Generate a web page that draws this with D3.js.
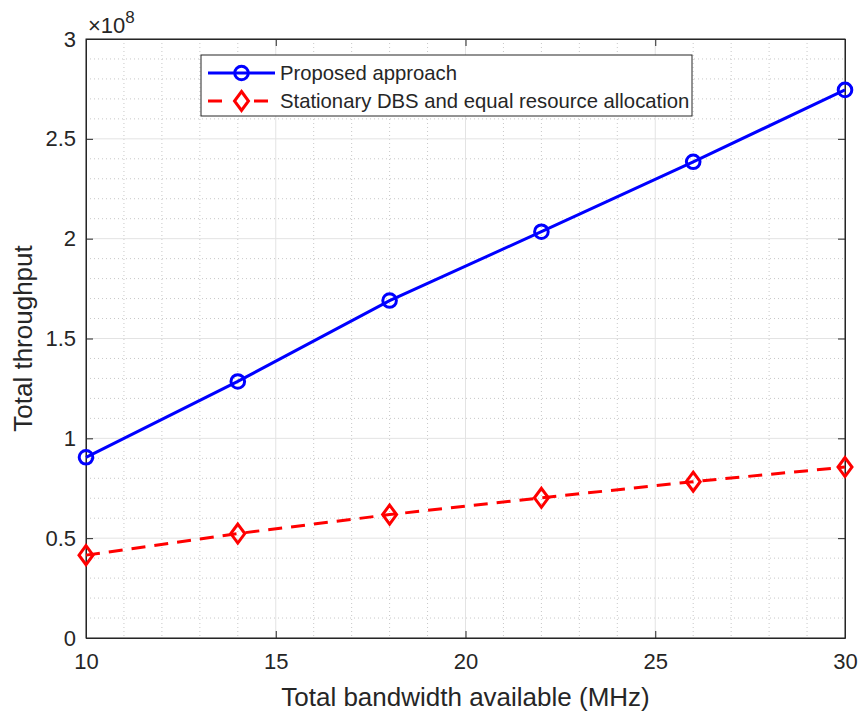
<!DOCTYPE html>
<html>
<head>
<meta charset="utf-8">
<script src="https://cdn.jsdelivr.net/npm/d3@7"></script>
<style>
  body { margin: 0; background: #fff; }
  text { font-family: "Liberation Sans", Arial, sans-serif; fill: #262626; }
</style>
</head>
<body>
<svg width="862" height="717"></svg>
<script>
// bandwidth (MHz)
let bandwidth = [10, 14, 18, 22, 26, 30];
// total throughput, units of 1e8
let proposed = [0.905, 1.285, 1.69, 2.035, 2.385, 2.745];
let stationary = [0.415, 0.523, 0.618, 0.702, 0.783, 0.856];
let xTicks = [10, 15, 20, 25, 30];
let yTicks = [0, 0.5, 1, 1.5, 2, 2.5, 3];
let seriesNames = ["Proposed approach", "Stationary DBS and equal resource allocation"];

let plotL = 86, plotR = 845, plotT = 39, plotB = 638;
let lw = 3;

let svg = d3.select("svg");

let x = d3.scaleLinear().domain([10, 30]).range([plotL, plotR]);
let y = d3.scaleLinear().domain([0, 3]).range([plotB, plotT]);

// minor grid (dotted)
let xMinor = d3.range(10, 30.01, 1).filter(v => v % 5 !== 0);
let yMinor = d3.range(0, 3.001, 0.1).filter(v => Math.abs(v * 2 - Math.round(v * 2)) > 1e-6);

svg.append("g").selectAll("line")
    .data(xMinor)
  .enter().append("line")
    .attr("x1", d => x(d)).attr("x2", d => x(d))
    .attr("y1", plotT).attr("y2", plotB)
    .attr("stroke", "#c8c8c8").attr("stroke-width", 1)
    .attr("stroke-dasharray", "1,3");

svg.append("g").selectAll("line")
    .data(yMinor)
  .enter().append("line")
    .attr("x1", plotL).attr("x2", plotR)
    .attr("y1", d => y(d)).attr("y2", d => y(d))
    .attr("stroke", "#c8c8c8").attr("stroke-width", 1)
    .attr("stroke-dasharray", "1,3");

// major grid
svg.append("g").selectAll("line")
    .data(xTicks)
  .enter().append("line")
    .attr("x1", d => x(d)).attr("x2", d => x(d))
    .attr("y1", plotT).attr("y2", plotB)
    .attr("stroke", "#e3e3e3").attr("stroke-width", 1);

svg.append("g").selectAll("line")
    .data(yTicks)
  .enter().append("line")
    .attr("x1", plotL).attr("x2", plotR)
    .attr("y1", d => y(d)).attr("y2", d => y(d))
    .attr("stroke", "#e3e3e3").attr("stroke-width", 1);

// axes (ticks inward)
let xAxis = svg.append("g")
    .attr("transform", `translate(0,${plotB})`)
    .call(d3.axisBottom(x).tickValues(xTicks).tickSizeInner(-7).tickSizeOuter(0).tickPadding(15).tickFormat(d3.format("d")));
let xTop = svg.append("g")
    .attr("transform", `translate(0,${plotT})`)
    .call(d3.axisTop(x).tickValues(xTicks).tickSizeInner(-7).tickSizeOuter(0).tickFormat(""));
let yAxis = svg.append("g")
    .attr("transform", `translate(${plotL},0)`)
    .call(d3.axisLeft(y).tickValues(yTicks).tickSizeInner(-7).tickSizeOuter(0).tickPadding(10).tickFormat(d3.format("")));
let yRight = svg.append("g")
    .attr("transform", `translate(${plotR},0)`)
    .call(d3.axisRight(y).tickValues(yTicks).tickSizeInner(-7).tickSizeOuter(0).tickFormat(""));

[xAxis, xTop, yAxis, yRight].forEach(g => {
  g.select(".domain").attr("stroke", "#262626").attr("stroke-width", 1);
  g.selectAll(".tick line").attr("stroke", "#262626");
  g.selectAll("text").attr("font-size", 22).attr("fill", "#262626")
    .style("font-family", "'Liberation Sans', Arial, sans-serif");
});

// box frame
svg.append("rect")
    .attr("x", plotL).attr("y", plotT)
    .attr("width", plotR - plotL).attr("height", plotB - plotT)
    .attr("fill", "none").attr("stroke", "#262626").attr("stroke-width", 1);

// exponent label
let expo = svg.append("text").attr("x", 88).attr("y", 33).attr("font-size", 22);
expo.append("tspan").text("×10");
expo.append("tspan").attr("font-size", 17).attr("dy", -10).text("8");

// lines
let lineGen = vals => d3.line()
    .x((d, i) => x(bandwidth[i]))
    .y(d => y(d))(vals);

svg.append("path")
    .attr("d", lineGen(proposed))
    .attr("fill", "none").attr("stroke", "#0000ff").attr("stroke-width", lw);

svg.append("path")
    .attr("d", lineGen(stationary))
    .attr("fill", "none").attr("stroke", "#ff0000").attr("stroke-width", lw)
    .attr("stroke-dasharray", "14,9");

// markers
function circleMarker(g, cx, cy) {
  g.append("circle").attr("cx", cx).attr("cy", cy).attr("r", 6.8)
    .attr("fill", "none").attr("stroke", "#0000ff").attr("stroke-width", lw);
}
function diamondMarker(g, cx, cy) {
  g.append("path")
    .attr("d", `M${cx},${cy - 9.5}L${cx + 7},${cy}L${cx},${cy + 9.5}L${cx - 7},${cy}Z`)
    .attr("fill", "none").attr("stroke", "#ff0000").attr("stroke-width", lw);
}

let marks = svg.append("g");
proposed.forEach((v, i) => circleMarker(marks, x(bandwidth[i]), y(v)));
stationary.forEach((v, i) => diamondMarker(marks, x(bandwidth[i]), y(v)));

// axis titles
svg.append("text")
    .attr("x", (plotL + plotR) / 2).attr("y", 706)
    .attr("text-anchor", "middle").attr("font-size", 26)
    .text("Total bandwidth available (MHz)");

svg.append("text")
    .attr("transform", `translate(32,${(plotT + plotB) / 2}) rotate(-90)`)
    .attr("text-anchor", "middle").attr("font-size", 26)
    .text("Total throughput");

// legend
let lg = svg.append("g");
lg.append("rect")
    .attr("x", 201).attr("y", 55).attr("width", 491).attr("height", 61)
    .attr("fill", "#fff").attr("stroke", "#262626").attr("stroke-width", 1);

let ly = [73, 101];
lg.append("line").attr("x1", 208).attr("x2", 275).attr("y1", ly[0]).attr("y2", ly[0])
    .attr("stroke", "#0000ff").attr("stroke-width", lw);
circleMarker(lg, 241.5, ly[0]);
lg.append("line").attr("x1", 208).attr("x2", 275).attr("y1", ly[1]).attr("y2", ly[1])
    .attr("stroke", "#ff0000").attr("stroke-width", lw).attr("stroke-dasharray", "14,9");
lg.append("rect").attr("x", 230).attr("y", ly[1] - 11).attr("width", 23).attr("height", 22).attr("fill", "#fff");
diamondMarker(lg, 241.5, ly[1]);

lg.selectAll("text.lbl")
    .data(seriesNames)
  .enter().append("text")
    .attr("class", "lbl")
    .attr("x", 280).attr("y", (d, i) => ly[i])
    .attr("dy", "0.35em").attr("font-size", 20.3)
    .text(d => d);
</script>
</body>
</html>
